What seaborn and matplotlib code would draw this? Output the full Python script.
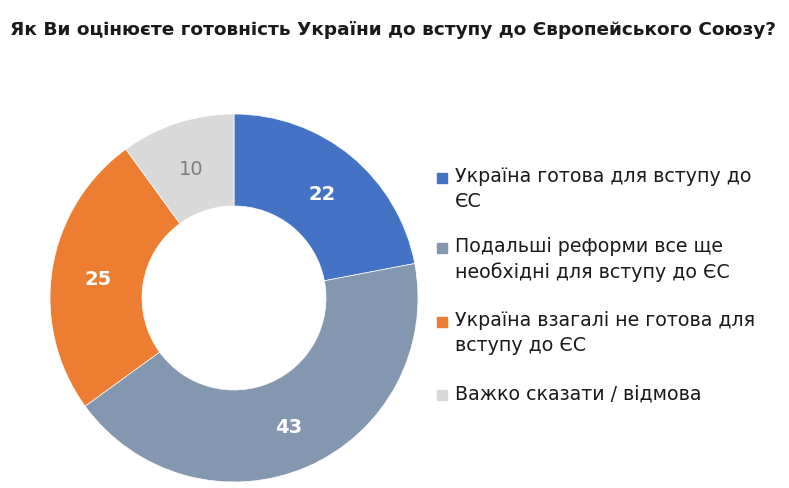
import matplotlib
matplotlib.use("Agg")
import matplotlib.pyplot as plt
from matplotlib.patches import Rectangle
import numpy as np
import seaborn as sns

# Data
categories = [
    "Україна готова для вступу до\nЄС",
    "Подальші реформи все ще\nнеобхідні для вступу до ЄС",
    "Україна взагалі не готова для\nвступу до ЄС",
    "Важко сказати / відмова",
]
values = [22, 43, 25, 10]
colors = ["#4472C4", "#8497B0", "#ED7D31", "#D9D9D9"]
label_colors = ["white", "white", "white", "#7F7F7F"]
label_weights = ["bold", "bold", "bold", "normal"]
title = "Як Ви оцінюєте готовність України до вступу до Європейського Союзу?"

sns.set_style("white")
plt.rcParams["font.family"] = ["DejaVu Sans"]

W, H = 789, 488
fig = plt.figure(figsize=(W / 100, H / 100), dpi=100)

# donut axes: centre (234, 298), radius 184 px
cx, cy, r = 234, 298, 184
ax = fig.add_axes([(cx - r) / W, (H - cy - r) / H, 2 * r / W, 2 * r / H])
wedges, _ = ax.pie(values, colors=colors, startangle=90, counterclock=False,
                   radius=1, wedgeprops=dict(width=0.5, edgecolor="white", linewidth=0.5))
ax.set_xlim(-1, 1)
ax.set_ylim(-1, 1)
ax.axis("off")

# value labels in the middle of the ring
start = 90.0
total = sum(values)
for v, c, w in zip(values, label_colors, label_weights):
    ang = np.deg2rad(start - v / total * 360 / 2)
    start -= v / total * 360
    ax.text(0.75 * np.cos(ang), 0.75 * np.sin(ang) - 0.015, str(v), ha="center", va="center",
            color=c, fontsize=14, fontweight=w)

# title
fig.text(10 / W, 1 - 30 / H, title, ha="left", va="center",
         fontsize=13.3, fontweight="bold", color="#1a1a1a")

# legend (manual, marker aligned to first line)
first_lines = [178, 248, 322, 395]
for lab, col, y in zip(categories, colors, first_lines):
    fig.patches.append(Rectangle((437 / W, 1 - (y + 5) / H), 10 / W, 10 / H,
                                 transform=fig.transFigure, color=col))
    fig.text(455 / W, 1 - (y - 11) / H, lab, ha="left", va="top", fontsize=13.7,
             color="#1a1a1a", linespacing=1.38)

fig.savefig("out.png", dpi=100, facecolor="white")
